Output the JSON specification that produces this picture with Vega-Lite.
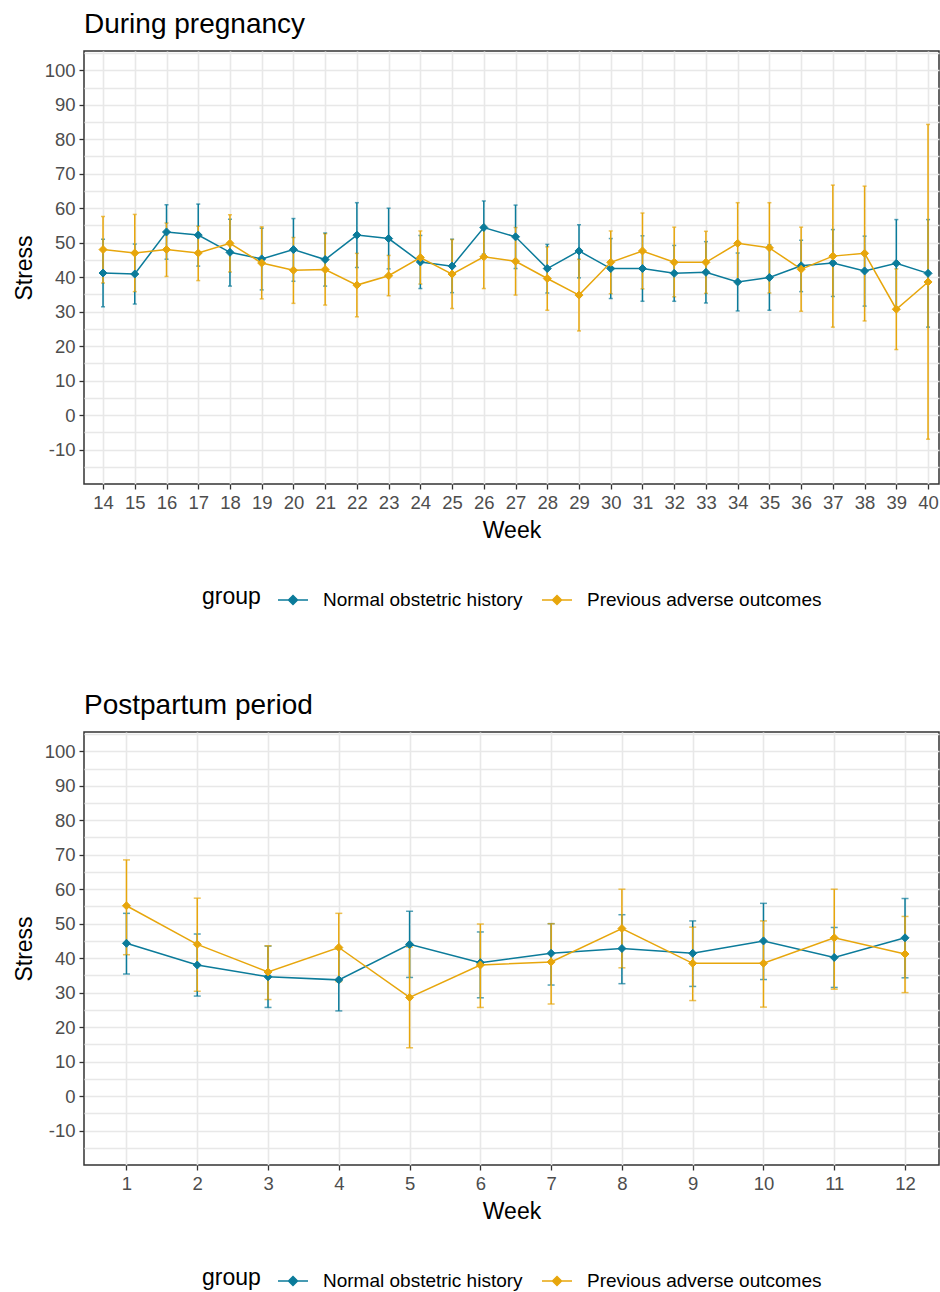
{
  "$schema": "https://vega.github.io/schema/vega-lite/v6.json",
  "padding": {"left": 12, "top": 10, "right": 0, "bottom": 0},
  "datasets": {
    "preg": [
      {"week": 14, "group": "Normal obstetric history", "mean": 41.2, "lo": 31.4, "hi": 51.0},
      {"week": 15, "group": "Normal obstetric history", "mean": 40.9, "lo": 32.2, "hi": 49.6},
      {"week": 16, "group": "Normal obstetric history", "mean": 53.1, "lo": 45.2, "hi": 61.0},
      {"week": 17, "group": "Normal obstetric history", "mean": 52.2, "lo": 43.2, "hi": 61.2},
      {"week": 18, "group": "Normal obstetric history", "mean": 47.2, "lo": 37.4, "hi": 56.8},
      {"week": 19, "group": "Normal obstetric history", "mean": 45.3, "lo": 36.3, "hi": 54.2},
      {"week": 20, "group": "Normal obstetric history", "mean": 48.0, "lo": 38.8, "hi": 57.0},
      {"week": 21, "group": "Normal obstetric history", "mean": 45.1, "lo": 37.4, "hi": 52.8},
      {"week": 22, "group": "Normal obstetric history", "mean": 52.2, "lo": 42.8, "hi": 61.6},
      {"week": 23, "group": "Normal obstetric history", "mean": 51.2, "lo": 42.4, "hi": 60.0},
      {"week": 24, "group": "Normal obstetric history", "mean": 44.4, "lo": 36.7, "hi": 52.1},
      {"week": 25, "group": "Normal obstetric history", "mean": 43.2, "lo": 35.5, "hi": 51.0},
      {"week": 26, "group": "Normal obstetric history", "mean": 54.4, "lo": 46.7, "hi": 62.1},
      {"week": 27, "group": "Normal obstetric history", "mean": 51.7, "lo": 42.5, "hi": 60.9},
      {"week": 28, "group": "Normal obstetric history", "mean": 42.5, "lo": 35.4, "hi": 49.5},
      {"week": 29, "group": "Normal obstetric history", "mean": 47.6, "lo": 39.8, "hi": 55.2},
      {"week": 30, "group": "Normal obstetric history", "mean": 42.5, "lo": 33.8, "hi": 51.2},
      {"week": 31, "group": "Normal obstetric history", "mean": 42.5, "lo": 33.0, "hi": 52.0},
      {"week": 32, "group": "Normal obstetric history", "mean": 41.1, "lo": 33.0, "hi": 49.2},
      {"week": 33, "group": "Normal obstetric history", "mean": 41.4, "lo": 32.5, "hi": 50.3},
      {"week": 34, "group": "Normal obstetric history", "mean": 38.6, "lo": 30.2, "hi": 47.0},
      {"week": 35, "group": "Normal obstetric history", "mean": 39.9, "lo": 30.4, "hi": 49.4},
      {"week": 36, "group": "Normal obstetric history", "mean": 43.3, "lo": 35.8, "hi": 50.7},
      {"week": 37, "group": "Normal obstetric history", "mean": 44.1, "lo": 34.4, "hi": 53.8},
      {"week": 38, "group": "Normal obstetric history", "mean": 41.8, "lo": 31.6, "hi": 51.9},
      {"week": 39, "group": "Normal obstetric history", "mean": 44.0, "lo": 31.3, "hi": 56.7},
      {"week": 40, "group": "Normal obstetric history", "mean": 41.1, "lo": 25.5, "hi": 56.7},
      {"week": 14, "group": "Previous adverse outcomes", "mean": 48.0, "lo": 38.3, "hi": 57.6},
      {"week": 15, "group": "Previous adverse outcomes", "mean": 47.0, "lo": 35.8, "hi": 58.2},
      {"week": 16, "group": "Previous adverse outcomes", "mean": 48.0, "lo": 40.2, "hi": 55.7},
      {"week": 17, "group": "Previous adverse outcomes", "mean": 47.0, "lo": 39.0, "hi": 54.8},
      {"week": 18, "group": "Previous adverse outcomes", "mean": 49.8, "lo": 41.5, "hi": 58.1},
      {"week": 19, "group": "Previous adverse outcomes", "mean": 44.1, "lo": 33.7, "hi": 54.6},
      {"week": 20, "group": "Previous adverse outcomes", "mean": 42.0, "lo": 32.4, "hi": 51.5},
      {"week": 21, "group": "Previous adverse outcomes", "mean": 42.2, "lo": 31.9, "hi": 52.6},
      {"week": 22, "group": "Previous adverse outcomes", "mean": 37.7, "lo": 28.5, "hi": 46.9},
      {"week": 23, "group": "Previous adverse outcomes", "mean": 40.4, "lo": 34.6, "hi": 46.3},
      {"week": 24, "group": "Previous adverse outcomes", "mean": 45.7, "lo": 38.0, "hi": 53.4},
      {"week": 25, "group": "Previous adverse outcomes", "mean": 40.9, "lo": 30.9, "hi": 50.9},
      {"week": 26, "group": "Previous adverse outcomes", "mean": 45.9, "lo": 36.7, "hi": 55.0},
      {"week": 27, "group": "Previous adverse outcomes", "mean": 44.6, "lo": 34.8, "hi": 54.4},
      {"week": 28, "group": "Previous adverse outcomes", "mean": 39.6, "lo": 30.4, "hi": 48.8},
      {"week": 29, "group": "Previous adverse outcomes", "mean": 34.8, "lo": 24.4, "hi": 45.2},
      {"week": 30, "group": "Previous adverse outcomes", "mean": 44.3, "lo": 35.2, "hi": 53.4},
      {"week": 31, "group": "Previous adverse outcomes", "mean": 47.6, "lo": 36.6, "hi": 58.6},
      {"week": 32, "group": "Previous adverse outcomes", "mean": 44.3, "lo": 34.3, "hi": 54.5},
      {"week": 33, "group": "Previous adverse outcomes", "mean": 44.3, "lo": 35.3, "hi": 53.3},
      {"week": 34, "group": "Previous adverse outcomes", "mean": 49.8, "lo": 38.0, "hi": 61.6},
      {"week": 35, "group": "Previous adverse outcomes", "mean": 48.5, "lo": 35.4, "hi": 61.6},
      {"week": 36, "group": "Previous adverse outcomes", "mean": 42.3, "lo": 30.1, "hi": 54.5},
      {"week": 37, "group": "Previous adverse outcomes", "mean": 46.1, "lo": 25.5, "hi": 66.7},
      {"week": 38, "group": "Previous adverse outcomes", "mean": 46.9, "lo": 27.3, "hi": 66.4},
      {"week": 39, "group": "Previous adverse outcomes", "mean": 30.7, "lo": 19.0, "hi": 42.4},
      {"week": 40, "group": "Previous adverse outcomes", "mean": 38.6, "lo": -7.0, "hi": 84.3}
    ],
    "post": [
      {"week": 1, "group": "Normal obstetric history", "mean": 44.3, "lo": 35.4, "hi": 53.0},
      {"week": 2, "group": "Normal obstetric history", "mean": 38.0, "lo": 29.0, "hi": 47.0},
      {"week": 3, "group": "Normal obstetric history", "mean": 34.6, "lo": 25.7, "hi": 43.5},
      {"week": 4, "group": "Normal obstetric history", "mean": 33.7, "lo": 24.7, "hi": 42.7},
      {"week": 5, "group": "Normal obstetric history", "mean": 44.0, "lo": 34.4, "hi": 53.6},
      {"week": 6, "group": "Normal obstetric history", "mean": 38.7, "lo": 28.5, "hi": 47.6},
      {"week": 7, "group": "Normal obstetric history", "mean": 41.4, "lo": 32.2, "hi": 50.0},
      {"week": 8, "group": "Normal obstetric history", "mean": 42.8, "lo": 32.6, "hi": 52.6},
      {"week": 9, "group": "Normal obstetric history", "mean": 41.4, "lo": 31.8, "hi": 50.8},
      {"week": 10, "group": "Normal obstetric history", "mean": 45.0, "lo": 33.8, "hi": 55.9},
      {"week": 11, "group": "Normal obstetric history", "mean": 40.2, "lo": 31.5, "hi": 48.9},
      {"week": 12, "group": "Normal obstetric history", "mean": 45.9, "lo": 34.3, "hi": 57.3},
      {"week": 1, "group": "Previous adverse outcomes", "mean": 55.2, "lo": 41.0, "hi": 68.5},
      {"week": 2, "group": "Previous adverse outcomes", "mean": 44.0, "lo": 30.4, "hi": 57.4},
      {"week": 3, "group": "Previous adverse outcomes", "mean": 36.0, "lo": 28.0, "hi": 43.6},
      {"week": 4, "group": "Previous adverse outcomes", "mean": 43.1, "lo": 33.2, "hi": 53.0},
      {"week": 5, "group": "Previous adverse outcomes", "mean": 28.6, "lo": 14.0, "hi": 43.2},
      {"week": 6, "group": "Previous adverse outcomes", "mean": 38.0, "lo": 25.7, "hi": 49.9},
      {"week": 7, "group": "Previous adverse outcomes", "mean": 38.9, "lo": 26.7, "hi": 50.0},
      {"week": 8, "group": "Previous adverse outcomes", "mean": 48.6, "lo": 37.2, "hi": 60.0},
      {"week": 9, "group": "Previous adverse outcomes", "mean": 38.5, "lo": 27.7, "hi": 49.0},
      {"week": 10, "group": "Previous adverse outcomes", "mean": 38.5, "lo": 25.8, "hi": 50.8},
      {"week": 11, "group": "Previous adverse outcomes", "mean": 45.9, "lo": 31.0, "hi": 60.0},
      {"week": 12, "group": "Previous adverse outcomes", "mean": 41.2, "lo": 30.0, "hi": 52.1}
    ]
  },
  "spacing": 80,
  "resolve": {"scale": {"color": "independent", "stroke": "independent", "x": "independent", "y": "independent"}, "legend": {"color": "independent", "stroke": "independent"}},
  "vconcat": [
    {
      "width": 855,
      "height": 433,
      "title": {"text": "During pregnancy"},
      "data": {"name": "preg"},
      "encoding": {
        "x": {"field": "week", "type": "quantitative", "scale": {"domain": [13.4, 40.345], "nice": false, "zero": false},
              "axis": {"values": [14,15,16,17,18,19,20,21,22,23,24,25,26,27,28,29,30,31,32,33,34,35,36,37,38,39,40], "tickCount": 40, "format": "d", "labelOverlap": false, "title": "Week"}},
        "y": {"field": "mean", "type": "quantitative", "scale": {"domain": [-20, 105.6], "nice": false, "zero": false},
              "axis": {"title": "Stress", "tickCount": 40, "format": "d", "labelOverlap": false, "values": [-15,-10,-5,0,5,10,15,20,25,30,35,40,45,50,55,60,65,70,75,80,85,90,95,100,105],
                       "labelExpr": "datum.value % 10 === 0 && datum.value >= -10 && datum.value <= 100 ? datum.value + '' : ''",
                       "tickOpacity": {"condition": {"test": "datum.value % 10 !== 0 || datum.value > 100 || datum.value < -10", "value": 0}, "value": 1}}},
        "color": {"field": "group", "type": "nominal", "title": "group",
                  "scale": {"domain": ["Normal obstetric history", "Previous adverse outcomes"], "range": ["#0b7b9a", "#e7a60c"]}}
      },
      "layer": [
        {"mark": {"type": "errorbar", "ticks": true, "size": 4, "thickness": 1.5},
         "encoding": {"y": {"field": "lo", "type": "quantitative", "scale": {"domain": [-20, 105.6], "nice": false, "zero": false},
              "axis": {"title": "Stress", "tickCount": 40, "format": "d", "labelOverlap": false, "values": [-15,-10,-5,0,5,10,15,20,25,30,35,40,45,50,55,60,65,70,75,80,85,90,95,100,105],
                       "labelExpr": "datum.value % 10 === 0 && datum.value >= -10 && datum.value <= 100 ? datum.value + '' : ''",
                       "tickOpacity": {"condition": {"test": "datum.value % 10 !== 0 || datum.value > 100 || datum.value < -10", "value": 0}, "value": 1}}},
                      "y2": {"field": "hi"}}},
        {"mark": {"type": "line", "strokeWidth": 1.5}},
        {"mark": {"type": "point", "shape": "diamond", "filled": true, "size": 64, "opacity": 1, "strokeWidth": 1},
         "encoding": {"stroke": {"field": "group", "type": "nominal", "title": "group",
                  "scale": {"domain": ["Normal obstetric history", "Previous adverse outcomes"], "range": ["#0b7b9a", "#e7a60c"]}}}}
      ]
    },
    {
      "width": 855,
      "height": 433,
      "title": {"text": "Postpartum period"},
      "data": {"name": "post"},
      "encoding": {
        "x": {"field": "week", "type": "quantitative", "scale": {"domain": [0.4, 12.48], "nice": false, "zero": false},
              "axis": {"values": [1,2,3,4,5,6,7,8,9,10,11,12], "tickCount": 40, "format": "d", "labelOverlap": false, "title": "Week"}},
        "y": {"field": "mean", "type": "quantitative", "scale": {"domain": [-20, 105.6], "nice": false, "zero": false},
              "axis": {"title": "Stress", "tickCount": 40, "format": "d", "labelOverlap": false, "values": [-15,-10,-5,0,5,10,15,20,25,30,35,40,45,50,55,60,65,70,75,80,85,90,95,100,105],
                       "labelExpr": "datum.value % 10 === 0 && datum.value >= -10 && datum.value <= 100 ? datum.value + '' : ''",
                       "tickOpacity": {"condition": {"test": "datum.value % 10 !== 0 || datum.value > 100 || datum.value < -10", "value": 0}, "value": 1}}},
        "color": {"field": "group", "type": "nominal", "title": "group",
                  "scale": {"domain": ["Normal obstetric history", "Previous adverse outcomes"], "range": ["#0b7b9a", "#e7a60c"]}}
      },
      "layer": [
        {"mark": {"type": "errorbar", "ticks": true, "size": 7, "thickness": 1.5},
         "encoding": {"y": {"field": "lo", "type": "quantitative", "scale": {"domain": [-20, 105.6], "nice": false, "zero": false},
              "axis": {"title": "Stress", "tickCount": 40, "format": "d", "labelOverlap": false, "values": [-15,-10,-5,0,5,10,15,20,25,30,35,40,45,50,55,60,65,70,75,80,85,90,95,100,105],
                       "labelExpr": "datum.value % 10 === 0 && datum.value >= -10 && datum.value <= 100 ? datum.value + '' : ''",
                       "tickOpacity": {"condition": {"test": "datum.value % 10 !== 0 || datum.value > 100 || datum.value < -10", "value": 0}, "value": 1}}},
                      "y2": {"field": "hi"}}},
        {"mark": {"type": "line", "strokeWidth": 1.5}},
        {"mark": {"type": "point", "shape": "diamond", "filled": true, "size": 64, "opacity": 1, "strokeWidth": 1},
         "encoding": {"stroke": {"field": "group", "type": "nominal", "title": "group",
                  "scale": {"domain": ["Normal obstetric history", "Previous adverse outcomes"], "range": ["#0b7b9a", "#e7a60c"]}}}}
      ]
    }
  ],
  "config": {
    "font": "Liberation Sans",
    "view": {"stroke": "#333333", "strokeWidth": 1.5},
    "axis": {"gridColor": "#E8E8E8", "gridWidth": 1.6, "domain": false, "tickColor": "#333333", "tickSize": 5, "tickWidth": 1.3,
             "labelColor": "#4D4D4D", "labelFontSize": 18.5, "labelFont": "Liberation Sans", "titleFont": "Liberation Sans",
             "titleFontSize": 23, "titleFontWeight": "normal", "titleColor": "#000000"},
    "axisX": {"labelPadding": 4, "titlePadding": 8, "labelFlush": false},
    "axisY": {"labelPadding": 4, "titlePadding": 8},
    "legend": {"orient": "bottom", "direction": "horizontal", "titleOrient": "left", "offset": 41,
               "titleFontSize": 23, "titleFontWeight": "normal", "titleColor": "#000000", "titleFont": "Liberation Sans",
               "labelFontSize": 19, "labelColor": "#000000", "labelFont": "Liberation Sans", "labelLimit": 400,
               "symbolType": "M-1,0H1M0,-0.3L0.3,0L0,0.3L-0.3,0Z", "symbolSize": 900, "symbolStrokeWidth": 1.5, "symbolOpacity": 1,
               "labelOffset": 14, "columnPadding": 16, "titlePadding": 16,
               "layout": {"bottom": {"anchor": "middle"}}},
    "title": {"anchor": "start", "frame": "group", "fontSize": 28, "fontWeight": "normal", "color": "#000000", "font": "Liberation Sans", "offset": 5}
  }
}
